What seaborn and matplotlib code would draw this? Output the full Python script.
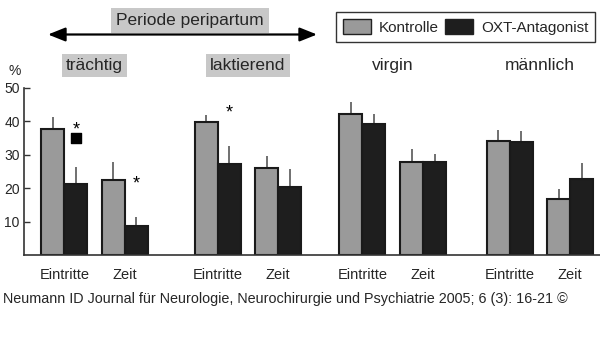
import numpy as np
import pandas as pd
import matplotlib
matplotlib.use("Agg")
import matplotlib.pyplot as plt
import seaborn as sns
from matplotlib.patches import Patch, FancyArrowPatch
from matplotlib.transforms import blended_transform_factory

# ---------------- data ----------------
groups = ["trächtig", "laktierend", "virgin", "männlich"]
measures = ["Eintritte", "Zeit"]
series = ["Kontrolle", "OXT-Antagonist"]
kontrolle_mean = [37.6, 22.5, 39.7, 26.1, 42.3, 27.8, 34.0, 16.7]
kontrolle_err = [3.6, 5.3, 2.2, 3.5, 3.6, 3.8, 3.4, 3.1]
oxt_mean = [21.3, 8.7, 27.2, 20.4, 39.1, 27.9, 33.8, 22.7]
oxt_err = [5.1, 2.7, 5.5, 5.3, 3.2, 2.2, 3.3, 4.8]
yticks = [10, 20, 30, 40, 50]
period_label = "Periode peripartum"
footer = "Neumann ID Journal für Neurologie, Neurochirurgie und Psychiatrie 2005; 6 (3): 16-21 ©"
# significance markers: (bar index, symbol, y value)
sig_markers = [(0, "*", 37.5), (1, "*", 21.4), (2, "*", 42.6)]
sig_squares = [(0, 35.0)]

# ---------------- layout ----------------
group_offsets = [0.0, 2.53, 4.92, 7.35]
kcol, ocol = "#9a9a9a", "#1e1e1e"
boxcol = "#c8c8c8"

sns.set_style("white")
plt.rcParams["font.family"] = ["Liberation Sans", "DejaVu Sans"]

rows = []
for gi, g in enumerate(groups):
    for mi, m in enumerate(measures):
        k = gi * 2 + mi
        pos = group_offsets[gi] + mi
        rows.append(dict(pos=pos, group=g, measure=m, treat=series[0], ti=0,
                         value=kontrolle_mean[k], err=kontrolle_err[k], k=k))
        rows.append(dict(pos=pos, group=g, measure=m, treat=series[1], ti=1,
                         value=oxt_mean[k], err=oxt_err[k], k=k))
df = pd.DataFrame(rows)

W, H = 600, 350
fig = plt.figure(figsize=(6, 3.5), dpi=100)
ax = fig.add_axes([24 / W, 1 - 255 / H, 1 - 24 / W, (255 - 88) / H])

sns.barplot(data=df, x="pos", y="value", hue="treat", hue_order=series,
            palette=[kcol, ocol], saturation=1, native_scale=True, width=0.76,
            errorbar=None, edgecolor="#1a1a1a", linewidth=1.5, legend=False, ax=ax)

bars = sorted([p for p in ax.patches if p.get_height() > 0],
              key=lambda p: p.get_x() + p.get_width() / 2)
dfs = df.sort_values(["pos", "ti"]).reset_index(drop=True)
cx = np.array([p.get_x() + p.get_width() / 2 for p in bars])
tops = np.array([p.get_height() for p in bars])
ax.vlines(cx, tops, tops + dfs["err"].values, color="#707070", lw=1.4, zorder=0.5)

# significance markers above OXT bars
oxt_x = {int(r.k): cx[i] for i, r in dfs.iterrows() if r.ti == 1}
for k, sym, yv in sig_markers:
    ax.text(oxt_x[k], yv, sym, ha="center", va="center", fontsize=13, color="black")
for k, yv in sig_squares:
    ax.scatter([oxt_x[k]], [yv], marker="s", s=45, color="black", zorder=5)

ax.set_xlim(-0.665, 8.84)
ax.set_ylim(0, 50)
ax.set_yticks(yticks)
ax.set_yticklabels([str(t) for t in yticks], fontsize=10)
ax.set_xticks([])
ax.set_xlabel("")
ax.set_ylabel("")
ax.tick_params(axis="y", direction="in", length=4, width=1, color="#333333", pad=3, left=True)
for s in ["top", "right"]:
    ax.spines[s].set_visible(False)
for s in ["left", "bottom"]:
    ax.spines[s].set_color("#333333")
    ax.spines[s].set_linewidth(1.2)

tr = blended_transform_factory(ax.transData, fig.transFigure)
for gi in range(len(groups)):
    for mi, m in enumerate(measures):
        ax.text(group_offsets[gi] + mi, 1 - 275 / H, m, transform=tr,
                ha="center", va="center", fontsize=10.5)
for gi, g in enumerate(groups):
    kw = {}
    if gi < 2:
        kw["bbox"] = dict(boxstyle="square,pad=0.25", fc=boxcol, ec="none")
    ax.text(group_offsets[gi] + 0.5, 1 - 65.5 / H, g, transform=tr,
            ha="center", va="center", fontsize=12.5, **kw)

fig.text(15 / W, 1 - 71 / H, "%", ha="center", va="center", fontsize=10)

arrow = FancyArrowPatch((48 / W, 1 - 34.5 / H), (317 / W, 1 - 34.5 / H),
                        transform=fig.transFigure,
                        arrowstyle="<|-|>,head_length=1.05,head_width=0.42",
                        mutation_scale=10, lw=1.6, color="black",
                        shrinkA=0, shrinkB=0, zorder=1)
fig.add_artist(arrow)
fig.text(190 / W, 1 - 20.5 / H, period_label, ha="center", va="center", fontsize=12.5,
         bbox=dict(boxstyle="square,pad=0.3", fc=boxcol, ec="none"), zorder=2)

handles = [Patch(facecolor=kcol, edgecolor="#222222", lw=1),
           Patch(facecolor=ocol, edgecolor="#222222", lw=1)]
leg = fig.legend(handles, series, loc="upper left", bbox_to_anchor=(336 / W, 1 - 12 / H),
                 ncol=2, frameon=True, fancybox=False, edgecolor="black", fontsize=11,
                 handlelength=1.83, handleheight=1.18, handletextpad=0.52,
                 columnspacing=0.4, borderpad=0.45, borderaxespad=0)
leg.get_frame().set_linewidth(1.0)

fig.text(3 / W, 1 - 299 / H, footer, ha="left", va="center", fontsize=10.4)

fig.savefig("out.png", dpi=100)
